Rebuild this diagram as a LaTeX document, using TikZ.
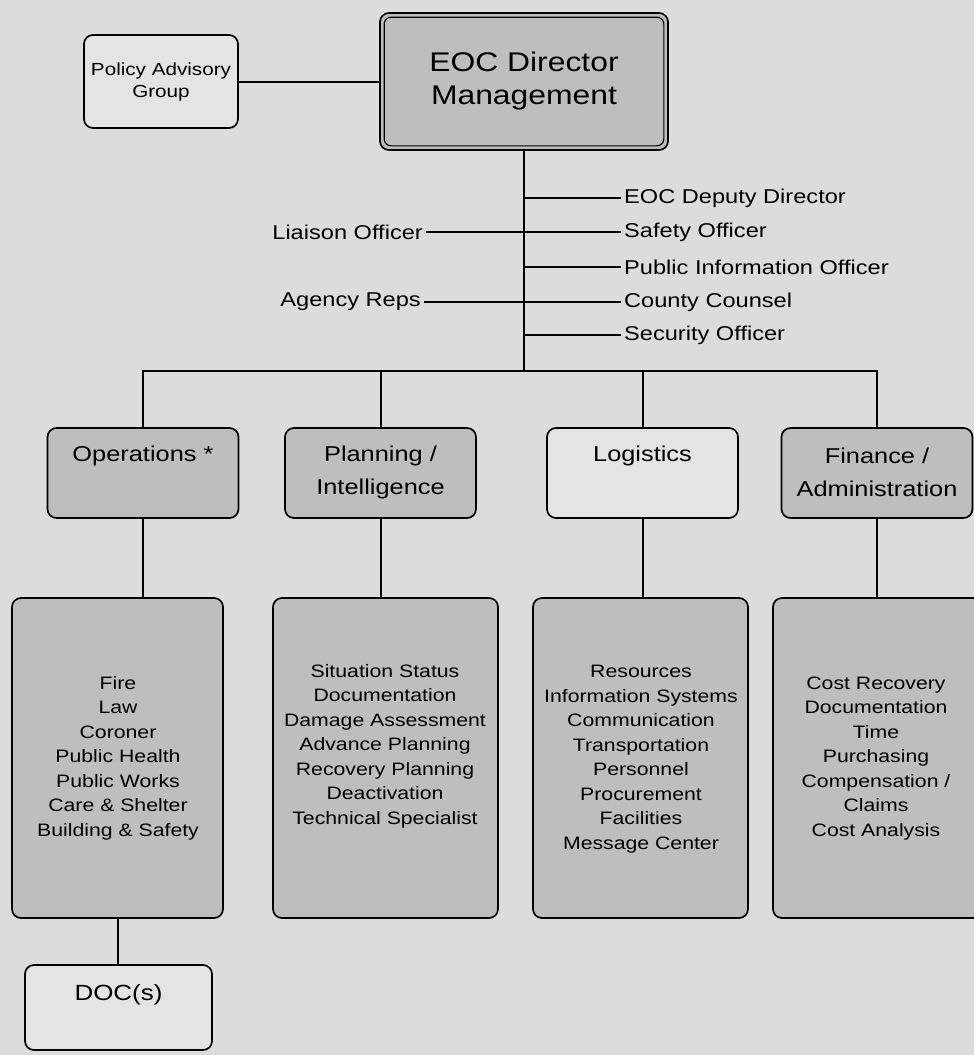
\documentclass[tikz,border=0pt]{standalone}
\usepackage{fontspec}
\setmainfont{Liberation Sans}
\newfontfamily\fa{Liberation Sans}[FakeStretch=1.18]
\usetikzlibrary{calc}
\definecolor{bgc}{HTML}{DCDCDC}
\definecolor{darkbox}{HTML}{BEBEBE}
\definecolor{litebox}{HTML}{E4E4E4}
\begin{document}
\begin{tikzpicture}[x=1pt,y=-1pt,
  box/.style={draw=black, line width=1.7pt, rounded corners=9pt, inner sep=0pt},
  conn/.style={line width=2pt, line cap=rect},
  sidelbl/.style={font=\fa\fontsize{20}{24}\selectfont, inner sep=4pt},
  hdrtxt/.style={font=\fa\fontsize{21.5}{33}\selectfont, align=center, inner sep=0pt},
  pnltxt/.style={font=\fa\fontsize{18}{24.5}\selectfont, align=center, inner sep=0pt}]
\fill[bgc] (0,0) rectangle (974,1055);
\useasboundingbox (0,0) rectangle (974,1055);

% top boxes
\node[box, fill=darkbox, minimum width=288pt, minimum height=137pt] (eoc) at (524,81.5) {};
\draw[line width=1.2pt, rounded corners=7pt] ($(eoc.north west)+(5,5)$) rectangle ($(eoc.south east)+(-5,-5)$);
\node[font=\fa\fontsize{27}{33}\selectfont, align=center, inner sep=0pt] (eocT) at (eoc.center) {EOC Director\\Management};

\node[box, fill=litebox, minimum width=154pt, minimum height=93pt] (pag) at (161,81.5) {};
\node[font=\fa\fontsize{17.5}{22}\selectfont, align=center, inner sep=0pt] (pagT) at (pag.center) {Policy Advisory\\Group};
\draw[conn] (pag.east) -- (pag.east -| eoc.west);

% staff
\coordinate (busC) at (524,371);
\draw[conn] (eoc.south) -- (busC);
\node[sidelbl, anchor=west] (dep) at (620,198) {EOC Deputy Director};
\node[sidelbl, anchor=west] (saf) at (620,232) {Safety Officer};
\node[sidelbl, anchor=west] (pio) at (620,267) {Public Information Officer};
\node[sidelbl, anchor=west] (cty) at (620,302) {County Counsel};
\node[sidelbl, anchor=west] (sec) at (620,335) {Security Officer};
\node[sidelbl, anchor=east] (lia) at (427,232) {Liaison Officer};
\node[sidelbl, anchor=east] (agr) at (425,302) {Agency Reps};
\draw[conn] (dep.west -| busC) -- (dep.west);
\draw[conn] (lia.east) -- (saf.west);
\draw[conn] (pio.west -| busC) -- (pio.west);
\draw[conn] (agr.east) -- (cty.west);
\draw[conn] (sec.west -| busC) -- (sec.west);

% section headers
\node[box, fill=darkbox, minimum width=191pt, minimum height=90pt] (opsH) at (143,473) {};
\node[box, fill=darkbox, minimum width=191pt, minimum height=90pt] (plnH) at (380.5,473) {};
\node[box, fill=litebox, minimum width=191pt, minimum height=90pt] (logH) at (642.5,473) {};
\node[box, fill=darkbox, minimum width=191pt, minimum height=90pt] (finH) at (877,473) {};
\node[hdrtxt] (opsHT) at (143,456) {Operations *};
\node[hdrtxt] (plnHT) at (380.5,472.5) {Planning /\\Intelligence};
\node[hdrtxt] (logHT) at (642.5,456) {Logistics};
\node[hdrtxt] (finHT) at (877,472.5) {Finance /\\Administration};

\draw[conn] (opsH.north |- busC) -- (finH.north |- busC);
\draw[conn] (opsH.north |- busC) -- (opsH.north);
\draw[conn] (plnH.north |- busC) -- (plnH.north);
\draw[conn] (logH.north |- busC) -- (logH.north);
\draw[conn] (finH.north |- busC) -- (finH.north);

% panels
\node[box, fill=darkbox, minimum width=211pt, minimum height=320pt] (opsP) at (117.5,758) {};
\node[box, fill=darkbox, minimum width=225pt, minimum height=320pt] (plnP) at (385.5,758) {};
\node[box, fill=darkbox, minimum width=215pt, minimum height=320pt] (logP) at (640.5,758) {};
\node[box, fill=darkbox, minimum width=209pt, minimum height=320pt] (finP) at (877.5,758) {};
\node[pnltxt] (opsPT) at (118,758) {Fire\\Law\\Coroner\\Public Health\\Public Works\\Care \& Shelter\\Building \& Safety};
\node[pnltxt] (plnPT) at (385,746) {Situation Status\\Documentation\\Damage Assessment\\Advance Planning\\Recovery Planning\\Deactivation\\Technical Specialist};
\node[pnltxt] (logPT) at (641,759) {Resources\\Information Systems\\Communication\\Transportation\\Personnel\\Procurement\\Facilities\\Message Center};
\node[pnltxt] (finPT) at (876,758.5) {Cost Recovery\\Documentation\\Time\\Purchasing\\Compensation /\\Claims\\Cost Analysis};

\draw[conn] (opsH.south) -- (opsH.south |- opsP.north);
\draw[conn] (plnH.south) -- (plnH.south |- plnP.north);
\draw[conn] (logH.south) -- (logH.south |- logP.north);
\draw[conn] (finH.south) -- (finH.south |- finP.north);

% DOC
\node[box, fill=litebox, minimum width=187pt, minimum height=85pt] (doc) at (118.5,1007.5) {};
\node[font=\fa\fontsize{22}{26}\selectfont, inner sep=0pt] (docT) at (118.5,995) {DOC(s)};
\draw[conn] (opsP.south) -- (opsP.south |- doc.north);
\end{tikzpicture}
\end{document}
